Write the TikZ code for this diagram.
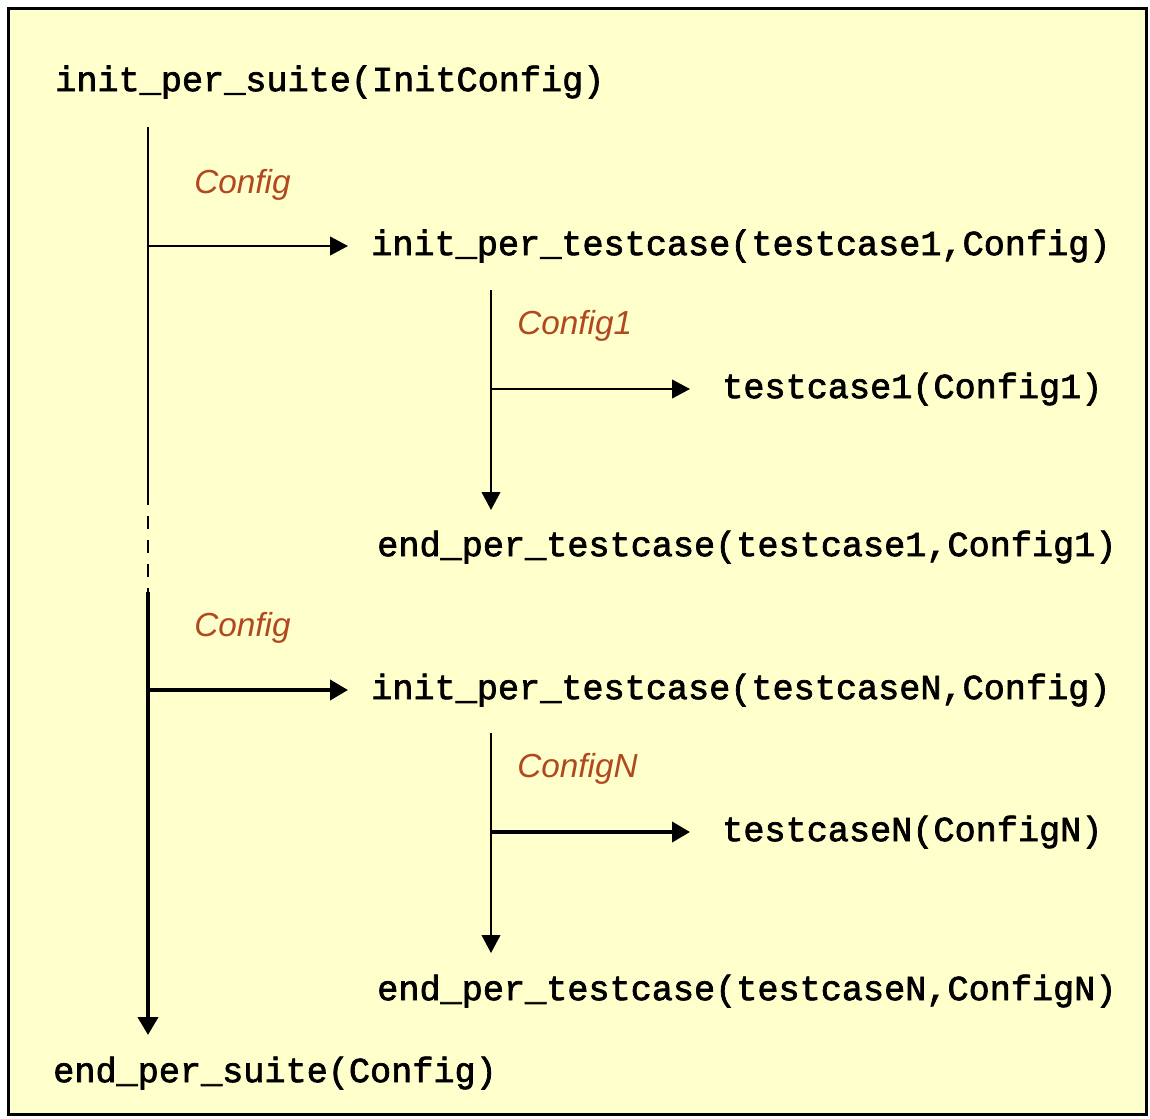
\documentclass[tikz,border=0pt]{standalone}
\usepackage{fontspec}
\newfontfamily\callfont[FakeBold=2]{Liberation Mono}
\setsansfont{Liberation Sans}
\usetikzlibrary{arrows.meta}
\definecolor{paper}{RGB}{255,255,204}
\definecolor{cfgred}{RGB}{176,72,32}

\begin{document}
\begin{tikzpicture}[x=0.75pt,y=0.75pt,yscale=-1,xscale=1,
	call/.style={anchor=west,inner sep=0.75pt,font=\fontsize{26.4}{30}\selectfont\callfont},
	cfg/.style={anchor=west,inner sep=0.75pt,text=cfgred,font=\fontsize{25}{30}\selectfont\sffamily\itshape},
	flow/.style={line width=1.5pt,-{Triangle[length=13.5pt,width=14pt]}},
	flowbold/.style={line width=3pt,-{Triangle[length=13.5pt,width=15pt]}}]
	\useasboundingbox (0,0) rectangle (1150,1118);
	
	%Shape: Rectangle [frame]
	\draw [line width=2.25pt,fill=paper] (8.5,8.5) rectangle (1146.5,1114.5);
	
	% Text Node
	\node [call] (suite) at (54,82) {init\_per\_suite(InitConfig)};
	% Text Node
	\node [call] (initA) at (370,246) {init\_per\_testcase(testcase1,Config)};
	% Text Node
	\node [call] (caseA) at (721,389) {testcase1(Config1)};
	% Text Node
	\node [call] (endA) at (376,547) {end\_per\_testcase(testcase1,Config1)};
	% Text Node
	\node [call] (initN) at (370,690) {init\_per\_testcase(testcaseN,Config)};
	% Text Node
	\node [call] (caseN) at (721,832) {testcaseN(ConfigN)};
	% Text Node
	\node [call] (endN) at (376,991) {end\_per\_testcase(testcaseN,ConfigN)};
	% Text Node
	\node [call] (endsuite) at (52,1073) {end\_per\_suite(Config)};
	
	% Text Node
	\node [cfg] (cfgA) at (193,185) {Config};
	% Text Node
	\node [cfg] (cfgOne) at (516,326) {Config1};
	% Text Node
	\node [cfg] (cfgB) at (193,628) {Config};
	% Text Node
	\node [cfg] (cfgN) at (516,769) {ConfigN};
	
	%Ends of the lines
	\coordinate (s0) at (148,127);
	\coordinate (s1) at (148,505);
	\coordinate (s2) at (148,592);
	\coordinate (s3) at (148,1035);
	\coordinate (bA) at (491,290);
	\coordinate (bA1) at (491,510);
	\coordinate (bN) at (491,733);
	\coordinate (bN1) at (491,953);
	
	%Straight Lines [suite]
	\draw [line width=1.5pt] (s0) -- (s1);
	\draw [line width=1.5pt,dash pattern=on 9.75pt off 8.25pt,dash phase=9.75pt] (s1) -- (s2);
	\draw [flowbold] (s2) -- (s3);
	%Straight Lines [testcase1]
	\draw [flow,shorten >=16.5pt] (s0 |- initA.west) -- (initA.west);
	\draw [flow] (bA) -- (bA1);
	\draw [flow,shorten >=23.25pt] (bA |- caseA.west) -- (caseA.west);
	%Straight Lines [testcaseN]
	\draw [flowbold,shorten >=16.5pt] (s2 |- initN.west) -- (initN.west);
	\draw [flow] (bN) -- (bN1);
	\draw [flowbold,shorten >=23.25pt] (bN |- caseN.west) -- (caseN.west);
	
\end{tikzpicture}
\end{document}
